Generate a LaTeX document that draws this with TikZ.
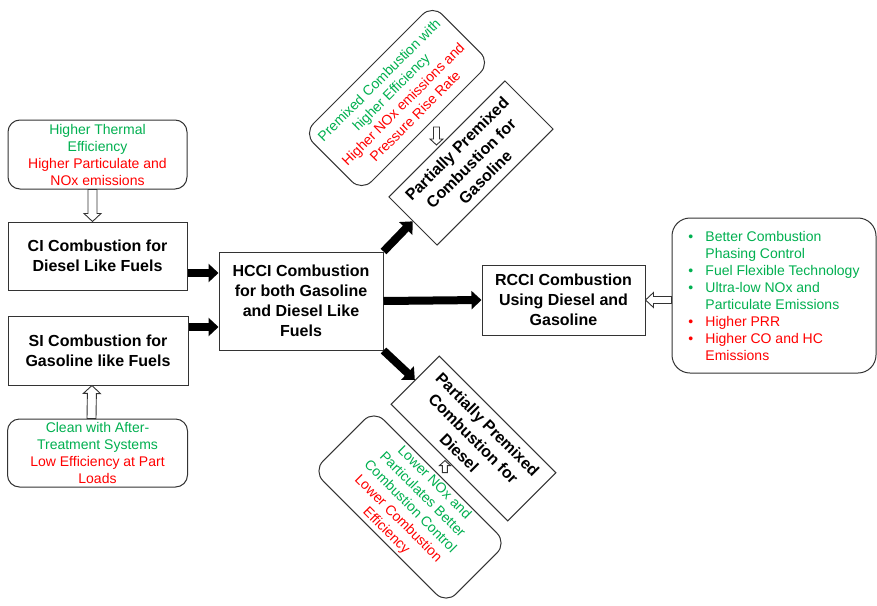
\documentclass[tikz,border=0pt]{standalone}
\usepackage{fontspec}
\setmainfont{Liberation Sans}
\usetikzlibrary{arrows.meta,calc}
\definecolor{pgreen}{RGB}{0,176,80}
\definecolor{pred}{RGB}{255,0,0}
\newcommand\gr[1]{\textcolor{pgreen}{#1}}
\newcommand\rd[1]{\textcolor{pred}{#1}}
\newcommand\bul[1]{\makebox[17pt][l]{\textcolor{#1}{\textbullet}}}
\newcommand\ind{\makebox[17pt]{}}
% #1 shaft half width, #2 head half width, #3 head length, #4 start, #5 end
\newcommand\hollowarr[5]{%
  \draw[hollowstyle] let \p1=(#4), \p2=(#5),
    \n1={atan2(\y2-\y1,\x2-\x1)},
    \n2={veclen(\x2-\x1,\y2-\y1)-#3} in
    ($(\p1)+(\n1+90:#1)$) -- ++(\n1:\n2) -- ++(\n1+90:#2-#1) -- (\p2)
    -- ($(\p1)+(\n1:\n2)+(\n1-90:#2)$) -- ++(\n1+90:#2-#1)
    -- ++(\n1+180:\n2) -- cycle;}
\tikzset{
  box/.style={draw=black!80, line width=1pt, fill=white, align=center, inner sep=2pt,
    font=\fontsize{16}{20}\selectfont\bfseries},
  note/.style={draw=black!80, line width=1pt, fill=white, rounded corners=12pt, align=center,
    inner sep=2pt, font=\fontsize{14}{17}\selectfont},
  blk/.style={line width=8pt, draw=black, -{Triangle[length=10pt,width=18pt]}},
  hollowstyle/.style={draw=black!80, line width=0.9pt, fill=white, line join=miter},
}
\begin{document}
\begin{tikzpicture}[x=1pt,y=-1pt]
\fill[white] (0,0) rectangle (877,605);
\useasboundingbox (0,0) rectangle (877,605);

% left column
\node[note, minimum width=179pt, minimum height=69pt] (tl) at (97.5,154.5)
  {\gr{Higher Thermal}\\\gr{Efficiency}\\\rd{Higher Particulate and}\\\rd{NOx emissions}};
\node[box, minimum width=179pt, minimum height=68pt] (ci) at (97.5,256)
  {CI Combustion for\\Diesel Like Fuels};
\node[box, minimum width=180pt, minimum height=69pt] (si) at (98,350.5)
  {SI Combustion for\\Gasoline like Fuels};
\node[note, minimum width=180pt, minimum height=68pt] (bl) at (97.5,453)
  {\gr{Clean with After-}\\\gr{Treatment Systems}\\\rd{Low Efficiency at Part}\\\rd{Loads}};

% centre
\node[box, minimum width=164pt, minimum height=98pt] (hcci) at (301,301)
  {HCCI Combustion\\for both Gasoline\\and Diesel Like\\Fuels};
\node[box, minimum width=163pt, minimum height=70pt] (rcci) at (563.5,300)
  {RCCI Combustion\\Using Diesel and\\Gasoline};

% rotated boxes
\node[box, minimum width=164pt, minimum height=68pt, rotate=45] (pg) at (471,163)
  {Partially Premixed\\Combustion for\\Gasoline};
\node[box, minimum width=165pt, minimum height=68pt, rotate=-45] (pd) at (473.5,438.5)
  {Partially Premixed\\Combustion for\\Diesel};
\node[note, rounded corners=14pt, minimum width=182pt, minimum height=82pt, rotate=45] (tr) at (397,98)
  {\gr{Premixed Combustion with}\\\gr{higher Efficiency}\\\rd{Higher NOx emissions and}\\\rd{Pressure Rise Rate}};
\node[note, rounded corners=14pt, minimum width=188pt, minimum height=86pt, rotate=-45] (br) at (410,507)
  {\gr{Lower NOx and}\\\gr{Particulates Better}\\\gr{Combustion Control}\\\rd{Lower Combustion}\\\rd{Efficiency}};

% right box
\node[note, rounded corners=18pt, minimum width=204pt, minimum height=155pt, align=left] (rb) at (774,295.5)
  {\bul{pgreen}\gr{Better Combustion}\\
   \ind\gr{Phasing Control}\\
   \bul{pgreen}\gr{Fuel Flexible Technology}\\
   \bul{pgreen}\gr{Ultra-low NOx and}\\
   \ind\gr{Particulate Emissions}\\
   \bul{pred}\rd{Higher PRR}\\
   \bul{pred}\rd{Higher CO and HC}\\
   \ind\rd{Emissions}};

% black arrows
\coordinate (c1) at ([yshift=-17pt]ci.east);
\coordinate (c2) at ([yshift=23.5pt]si.east);
\draw[blk] (c1) -- (c1 -| hcci.west);
\draw[blk] (c2) -- (c2 -| hcci.west);
\draw[blk] (hcci.east) -- (rcci.west);
\draw[blk] (hcci.north east) -- (pg.west);
\draw[blk] (hcci.south east) -- (pd.west);

% hollow arrows
\hollowarr{4.5pt}{8.5pt}{8pt}{[xshift=-5pt]tl.south}{[xshift=-5pt]ci.north}
\hollowarr{4.5pt}{8.5pt}{8pt}{[xshift=-6pt]bl.north}{[xshift=-6pt]si.south}
\coordinate (c3) at (rb.west |- rcci.east);
\hollowarr{3.5pt}{7.5pt}{8pt}{c3}{rcci.east}
\path (tr.south) -- (pg.north) coordinate[midway] (m1);
\hollowarr{3pt}{6.5pt}{6pt}{[yshift=6pt]m1}{[yshift=-12pt]m1}
\path (br.north) -- (pd.south) coordinate[midway] (m2);
\hollowarr{2.5pt}{5.5pt}{5pt}{[yshift=-3pt]m2}{[yshift=9pt]m2}
\end{tikzpicture}
\end{document}
